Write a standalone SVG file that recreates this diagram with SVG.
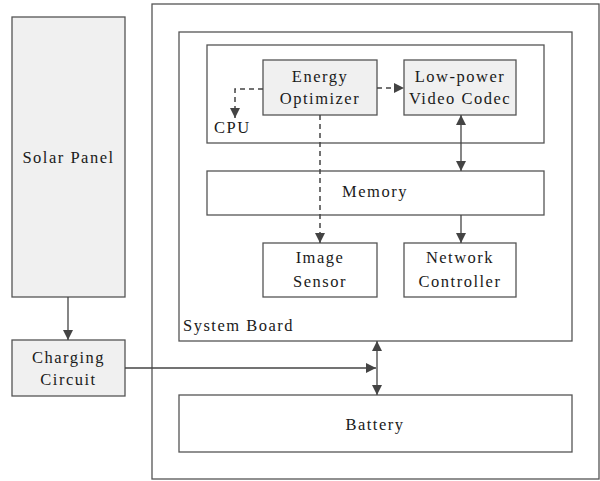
<svg xmlns="http://www.w3.org/2000/svg" width="600" height="481" viewBox="0 0 600 481">
<style>
.box{fill:#ffffff;stroke:#555555;stroke-width:1.3}
.gray{fill:#f0f0f0;stroke:#555555;stroke-width:1.3}
.t{font-family:"Liberation Serif","DejaVu Serif","Times New Roman",serif;font-size:16.5px;letter-spacing:1.5px;fill:#1a1a1a}
.c{text-anchor:middle}
.ln{fill:none;stroke:#444444;stroke-width:1.3}
.dash{fill:none;stroke:#444444;stroke-width:1.5;stroke-dasharray:5,4}
</style>
<defs>
<marker id="ah" viewBox="0 0 10 10" refX="10" refY="5" markerWidth="10" markerHeight="10" markerUnits="userSpaceOnUse" orient="auto-start-reverse">
<path d="M0,0 L10,5 L0,10 z" fill="#444444"/>
</marker>
</defs>
<rect width="600" height="481" fill="#ffffff"/>
<g id="solar-panel"><rect class="gray" x="12" y="17" width="113" height="280"/><text class="t c" x="68.5" y="163">Solar Panel</text></g>
<g id="charging-circuit"><rect class="gray" x="12" y="340" width="113" height="56"/><text class="t c" x="68.5" y="363">Charging</text><text class="t c" x="68.5" y="385">Circuit</text></g>
<g id="device"><rect class="box" x="152" y="4" width="447" height="475"/></g>
<g id="system-board"><rect class="box" x="179" y="32" width="393" height="309"/><text class="t" x="183" y="331">System Board</text></g>
<g id="cpu"><rect class="box" x="207" y="45" width="337" height="98"/><text class="t" x="214" y="133">CPU</text></g>
<g id="energy-optimizer"><rect class="gray" x="263" y="60" width="114" height="55"/><text class="t c" x="320" y="82">Energy</text><text class="t c" x="320" y="104">Optimizer</text></g>
<g id="video-codec"><rect class="gray" x="404" y="60" width="112" height="55"/><text class="t c" x="460" y="82">Low-power</text><text class="t c" x="460" y="104">Video Codec</text></g>
<g id="memory"><rect class="box" x="207" y="171" width="337" height="44"/><text class="t c" x="375" y="197">Memory</text></g>
<g id="image-sensor"><rect class="box" x="263" y="243" width="114" height="54"/><text class="t c" x="320" y="263">Image</text><text class="t c" x="320" y="287">Sensor</text></g>
<g id="network-controller"><rect class="box" x="404" y="243" width="112" height="54"/><text class="t c" x="460" y="263">Network</text><text class="t c" x="460" y="287">Controller</text></g>
<g id="battery"><rect class="box" x="179" y="395" width="393" height="57"/><text class="t c" x="375" y="430">Battery</text></g>
<g id="connectors">
<path class="ln" d="M68,297 V340" marker-end="url(#ah)"/>
<path class="ln" d="M125,368 H376" marker-end="url(#ah)"/>
<path class="ln" d="M377,341 V395" marker-start="url(#ah)" marker-end="url(#ah)"/>
<path class="ln" d="M461,115 V171" marker-start="url(#ah)" marker-end="url(#ah)"/>
<path class="ln" d="M461,215 V243" marker-end="url(#ah)"/>
<path class="dash" d="M320,115 V243" marker-end="url(#ah)"/>
<path class="dash" d="M377,88 H404" marker-end="url(#ah)"/>
<path class="dash" d="M263,89 H235 V118" marker-end="url(#ah)"/>
</g>
</svg>
